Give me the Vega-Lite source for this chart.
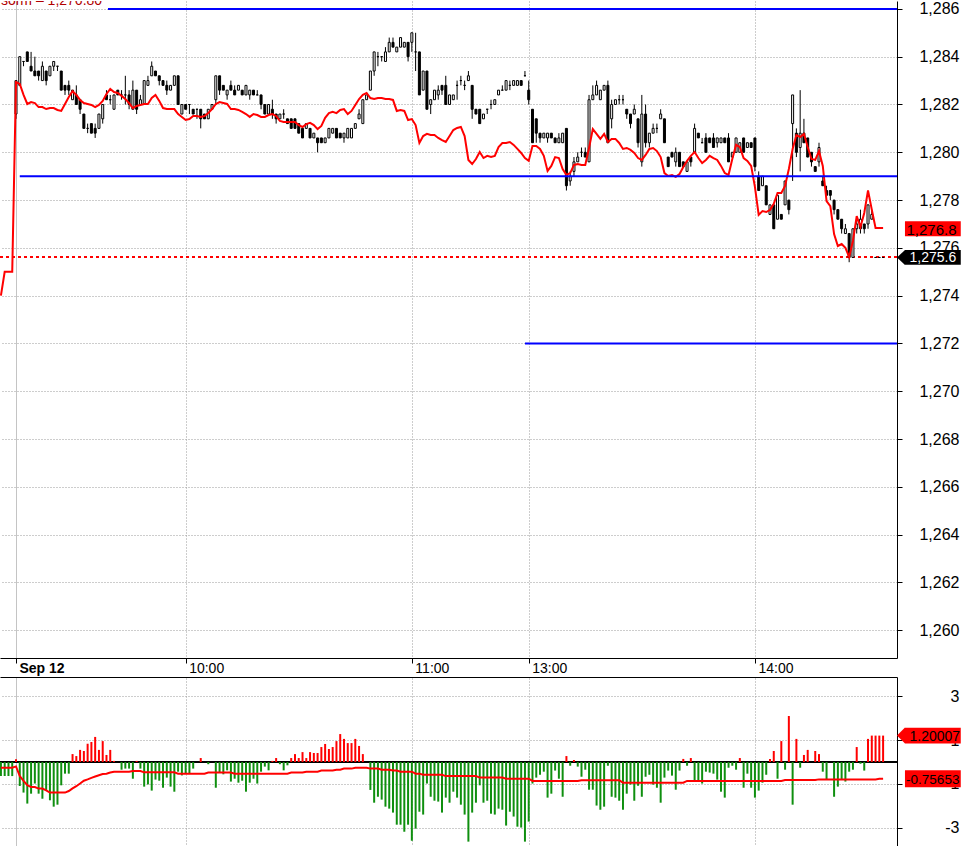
{
"$schema":"https://vega.github.io/schema/vega-lite/v6.json",
"padding":0,
"background":"white",
"spacing":0,
"config":{"view":{"stroke":null},"font":"Liberation Sans"},
"datasets":{"bars":[
{"i":-4,"m":1274.0,"v":-0.64,"s":-0.26},
{"i":-3,"m":1275.0,"v":-0.64,"s":-0.26},
{"i":-2,"m":1275.0,"v":-0.64,"s":-0.26},
{"i":-1,"m":1275.0,"v":-0.64,"s":-0.26},
{"i":0,"o":1281.6,"h":1283.0,"l":1281.4,"c":1283.0,"m":1282.94,"v":0.12,"s":-0.2},
{"i":1,"o":1282.8,"h":1284.0,"l":1282.8,"c":1284.0,"m":1282.86,"v":-1.09,"s":-0.64},
{"i":2,"o":1283.8,"h":1283.8,"l":1283.6,"c":1283.8,"m":1282.40,"v":-1.39,"s":-0.86},
{"i":3,"o":1284.2,"h":1284.2,"l":1283.8,"c":1283.8,"m":1282.02,"v":-1.89,"s":-1.05},
{"i":4,"o":1283.6,"h":1284.2,"l":1283.4,"c":1283.4,"m":1282.10,"v":-1.44,"s":-1.14},
{"i":5,"o":1283.4,"h":1284.0,"l":1283.2,"c":1283.2,"m":1282.06,"v":-0.98,"s":-1.14},
{"i":6,"o":1283.4,"h":1283.4,"l":1283.0,"c":1283.2,"m":1281.89,"v":-1.44,"s":-1.21},
{"i":7,"o":1283.0,"h":1283.8,"l":1283.0,"c":1283.6,"m":1281.89,"v":-1.67,"s":-1.21},
{"i":8,"o":1283.4,"h":1283.4,"l":1282.8,"c":1283.0,"m":1281.81,"v":-1.32,"s":-1.29},
{"i":9,"o":1283.2,"h":1283.6,"l":1283.2,"c":1283.6,"m":1281.85,"v":-1.74,"s":-1.39},
{"i":10,"o":1283.6,"h":1283.8,"l":1283.4,"c":1283.8,"m":1281.85,"v":-2.03,"s":-1.39},
{"i":11,"o":1283.6,"h":1283.6,"l":1283.4,"c":1283.6,"m":1281.77,"v":-1.94,"s":-1.39},
{"i":12,"o":1283.4,"h":1283.4,"l":1282.6,"c":1282.6,"m":1281.73,"v":-1.06,"s":-1.39},
{"i":13,"o":1282.8,"h":1282.8,"l":1282.4,"c":1282.6,"m":1282.02,"v":-0.53,"s":-1.39},
{"i":14,"o":1282.8,"h":1283.0,"l":1282.4,"c":1282.6,"m":1282.31,"v":-0.53,"s":-1.32},
{"i":15,"o":1282.2,"h":1282.6,"l":1282.2,"c":1282.6,"m":1282.56,"v":0.36,"s":-1.2},
{"i":16,"o":1282.4,"h":1282.8,"l":1282.0,"c":1282.0,"m":1282.40,"v":0.27,"s":-1.1},
{"i":17,"o":1282.2,"h":1282.2,"l":1281.6,"c":1281.8,"m":1282.19,"v":0.55,"s":-0.98},
{"i":18,"o":1281.6,"h":1281.6,"l":1281.0,"c":1281.0,"m":1282.06,"v":0.5,"s":-0.85},
{"i":19,"o":1281.0,"h":1281.2,"l":1280.8,"c":1281.0,"m":1282.02,"v":0.83,"s":-0.79},
{"i":20,"o":1281.2,"h":1281.2,"l":1280.8,"c":1280.8,"m":1281.98,"v":0.91,"s":-0.72},
{"i":21,"o":1281.0,"h":1281.2,"l":1280.6,"c":1280.8,"m":1281.89,"v":1.14,"s":-0.66},
{"i":22,"o":1281.0,"h":1281.6,"l":1281.0,"c":1281.6,"m":1281.98,"v":0.55,"s":-0.6},
{"i":23,"o":1281.4,"h":1282.0,"l":1281.2,"c":1282.0,"m":1282.15,"v":0.95,"s":-0.55},
{"i":24,"o":1282.4,"h":1282.6,"l":1282.2,"c":1282.2,"m":1282.44,"v":0.32,"s":-0.53},
{"i":25,"o":1282.2,"h":1282.4,"l":1282.0,"c":1282.2,"m":1282.65,"v":0.55,"s":-0.48},
{"i":26,"o":1281.8,"h":1282.4,"l":1281.8,"c":1282.4,"m":1282.52,"v":0.05,"s":-0.44},
{"i":27,"o":1282.6,"h":1282.6,"l":1282.4,"c":1282.4,"m":1282.48,"v":0,"s":-0.44},
{"i":28,"o":1282.4,"h":1282.6,"l":1282.2,"c":1282.4,"m":1282.36,"v":-0.35,"s":-0.44},
{"i":29,"o":1282.4,"h":1283.2,"l":1282.0,"c":1282.4,"m":1282.23,"v":-0.3,"s":-0.44},
{"i":30,"o":1282.4,"h":1282.6,"l":1281.8,"c":1282.0,"m":1282.06,"v":-0.3,"s":-0.44},
{"i":31,"o":1281.8,"h":1283.0,"l":1281.8,"c":1282.6,"m":1281.85,"v":-0.76,"s":-0.41},
{"i":32,"o":1282.6,"h":1282.6,"l":1281.6,"c":1281.8,"m":1281.94,"v":0.05,"s":-0.41},
{"i":33,"o":1282.0,"h":1282.4,"l":1282.0,"c":1282.2,"m":1281.98,"v":-0.3,"s":-0.41},
{"i":34,"o":1282.0,"h":1283.0,"l":1282.0,"c":1283.0,"m":1282.02,"v":-1.12,"s":-0.47},
{"i":35,"o":1282.8,"h":1283.2,"l":1282.8,"c":1283.0,"m":1282.02,"v":-1.02,"s":-0.47},
{"i":36,"o":1283.2,"h":1283.8,"l":1283.2,"c":1283.6,"m":1282.27,"v":-1.3,"s":-0.47},
{"i":37,"o":1283.4,"h":1283.4,"l":1283.2,"c":1283.2,"m":1282.40,"v":-0.8,"s":-0.47},
{"i":38,"o":1283.2,"h":1283.2,"l":1282.8,"c":1283.0,"m":1282.15,"v":-0.85,"s":-0.47},
{"i":39,"o":1283.0,"h":1283.0,"l":1282.8,"c":1282.8,"m":1281.85,"v":-1.17,"s":-0.47},
{"i":40,"o":1282.8,"h":1283.0,"l":1282.4,"c":1282.6,"m":1281.81,"v":-0.71,"s":-0.47},
{"i":41,"o":1282.6,"h":1282.8,"l":1282.6,"c":1282.8,"m":1281.81,"v":-1.12,"s":-0.47},
{"i":42,"o":1282.8,"h":1283.2,"l":1282.8,"c":1283.2,"m":1281.81,"v":-1.35,"s":-0.47},
{"i":43,"o":1283.2,"h":1283.2,"l":1282.0,"c":1282.0,"m":1281.60,"v":-0.44,"s":-0.53},
{"i":44,"o":1281.6,"h":1282.0,"l":1281.6,"c":1282.0,"m":1281.48,"v":-0.61,"s":-0.53},
{"i":45,"o":1282.0,"h":1282.0,"l":1281.8,"c":1281.8,"m":1281.35,"v":-0.53,"s":-0.53},
{"i":46,"o":1282.0,"h":1282.0,"l":1281.6,"c":1282.0,"m":1281.39,"v":-0.53,"s":-0.53},
{"i":47,"o":1281.8,"h":1281.8,"l":1281.6,"c":1281.6,"m":1281.52,"v":-0.3,"s":-0.53},
{"i":48,"o":1281.8,"h":1281.8,"l":1281.4,"c":1281.8,"m":1281.52,"v":0,"s":-0.53},
{"i":49,"o":1281.8,"h":1281.8,"l":1281.0,"c":1281.4,"m":1281.48,"v":0.18,"s":-0.53},
{"i":50,"o":1281.6,"h":1281.6,"l":1281.4,"c":1281.4,"m":1281.52,"v":0,"s":-0.53},
{"i":51,"o":1281.4,"h":1281.8,"l":1281.4,"c":1281.8,"m":1281.64,"v":-0.1,"s":-0.48},
{"i":52,"o":1281.8,"h":1282.0,"l":1281.8,"c":1282.0,"m":1281.81,"v":0,"s":-0.48},
{"i":53,"o":1282.2,"h":1283.2,"l":1282.0,"c":1283.2,"m":1282.02,"v":-1.17,"s":-0.48},
{"i":54,"o":1283.2,"h":1283.2,"l":1282.4,"c":1282.6,"m":1282.10,"v":-0.48,"s":-0.48},
{"i":55,"o":1282.8,"h":1282.8,"l":1282.6,"c":1282.6,"m":1282.06,"v":-0.56,"s":-0.48},
{"i":56,"o":1282.4,"h":1282.6,"l":1282.2,"c":1282.6,"m":1282.02,"v":-0.38,"s":-0.48},
{"i":57,"o":1282.8,"h":1283.0,"l":1282.6,"c":1282.6,"m":1281.81,"v":-0.89,"s":-0.48},
{"i":58,"o":1282.6,"h":1282.8,"l":1282.4,"c":1282.4,"m":1281.81,"v":-0.76,"s":-0.53},
{"i":59,"o":1282.6,"h":1282.8,"l":1282.6,"c":1282.8,"m":1281.77,"v":-0.94,"s":-0.53},
{"i":60,"o":1282.6,"h":1282.6,"l":1282.4,"c":1282.4,"m":1281.69,"v":-0.85,"s":-0.53},
{"i":61,"o":1282.4,"h":1282.8,"l":1282.4,"c":1282.8,"m":1281.60,"v":-1.35,"s":-0.53},
{"i":62,"o":1282.4,"h":1282.6,"l":1282.2,"c":1282.6,"m":1281.48,"v":-0.94,"s":-0.53},
{"i":63,"o":1282.6,"h":1282.6,"l":1282.4,"c":1282.4,"m":1281.60,"v":-0.76,"s":-0.53},
{"i":64,"o":1282.4,"h":1282.6,"l":1282.4,"c":1282.4,"m":1281.56,"v":-0.98,"s":-0.53},
{"i":65,"o":1282.4,"h":1282.4,"l":1281.8,"c":1282.0,"m":1281.48,"v":-0.44,"s":-0.53},
{"i":66,"o":1282.0,"h":1282.0,"l":1281.6,"c":1281.6,"m":1281.48,"v":-0.21,"s":-0.53},
{"i":67,"o":1281.6,"h":1282.0,"l":1281.6,"c":1282.0,"m":1281.56,"v":-0.38,"s":-0.53},
{"i":68,"o":1281.8,"h":1282.2,"l":1281.4,"c":1281.6,"m":1281.60,"v":0.05,"s":-0.53},
{"i":69,"o":1281.6,"h":1281.6,"l":1281.2,"c":1281.4,"m":1281.52,"v":0.18,"s":-0.53},
{"i":70,"o":1281.4,"h":1281.6,"l":1281.4,"c":1281.6,"m":1281.31,"v":-0.1,"s":-0.53},
{"i":71,"o":1281.6,"h":1281.8,"l":1281.4,"c":1281.6,"m":1281.27,"v":-0.38,"s":-0.53},
{"i":72,"o":1281.4,"h":1281.4,"l":1281.2,"c":1281.2,"m":1281.27,"v":-0.15,"s":-0.53},
{"i":73,"o":1281.4,"h":1281.4,"l":1281.0,"c":1281.0,"m":1281.27,"v":0.18,"s":-0.48},
{"i":74,"o":1281.4,"h":1281.4,"l":1281.0,"c":1281.0,"m":1281.27,"v":0.36,"s":-0.48},
{"i":75,"o":1281.2,"h":1281.2,"l":1280.8,"c":1280.8,"m":1281.14,"v":0.18,"s":-0.48},
{"i":76,"o":1281.0,"h":1281.0,"l":1280.6,"c":1280.6,"m":1281.06,"v":0.45,"s":-0.48},
{"i":77,"o":1281.0,"h":1281.2,"l":1281.0,"c":1281.2,"m":1281.18,"v":0.18,"s":-0.44},
{"i":78,"o":1281.0,"h":1281.0,"l":1280.6,"c":1280.6,"m":1281.23,"v":0.45,"s":-0.44},
{"i":79,"o":1280.6,"h":1280.8,"l":1280.6,"c":1280.8,"m":1281.14,"v":0.41,"s":-0.44},
{"i":80,"o":1280.6,"h":1280.6,"l":1280.0,"c":1280.4,"m":1280.97,"v":0.41,"s":-0.44},
{"i":81,"o":1280.6,"h":1280.6,"l":1280.4,"c":1280.4,"m":1281.10,"v":0.68,"s":-0.39},
{"i":82,"o":1280.4,"h":1280.6,"l":1280.4,"c":1280.6,"m":1281.44,"v":0.82,"s":-0.39},
{"i":83,"o":1280.6,"h":1281.0,"l":1280.6,"c":1281.0,"m":1281.64,"v":0.59,"s":-0.39},
{"i":84,"o":1280.8,"h":1281.0,"l":1280.8,"c":1281.0,"m":1281.69,"v":0.68,"s":-0.39},
{"i":85,"o":1281.0,"h":1281.0,"l":1280.6,"c":1280.6,"m":1281.64,"v":0.95,"s":-0.35},
{"i":86,"o":1280.8,"h":1280.8,"l":1280.6,"c":1280.6,"m":1281.77,"v":1.27,"s":-0.35},
{"i":87,"o":1280.6,"h":1280.8,"l":1280.4,"c":1280.8,"m":1281.81,"v":1.05,"s":-0.3},
{"i":88,"o":1280.6,"h":1281.0,"l":1280.6,"c":1281.0,"m":1281.60,"v":0.86,"s":-0.3},
{"i":89,"o":1280.6,"h":1281.0,"l":1280.6,"c":1281.0,"m":1281.73,"v":0.86,"s":-0.3},
{"i":90,"o":1281.0,"h":1281.2,"l":1281.0,"c":1281.2,"m":1281.98,"v":1.05,"s":-0.26},
{"i":91,"o":1281.4,"h":1281.8,"l":1281.4,"c":1281.6,"m":1282.23,"v":0.73,"s":-0.26},
{"i":92,"o":1281.2,"h":1282.2,"l":1281.2,"c":1282.2,"m":1282.40,"v":0.36,"s":-0.26},
{"i":93,"o":1282.2,"h":1282.4,"l":1282.2,"c":1282.4,"m":1282.48,"v":0,"s":-0.26},
{"i":94,"o":1282.6,"h":1283.4,"l":1282.6,"c":1283.4,"m":1282.27,"v":-1.27,"s":-0.3},
{"i":95,"o":1283.4,"h":1284.2,"l":1283.2,"c":1284.2,"m":1282.23,"v":-1.85,"s":-0.3},
{"i":96,"o":1284.0,"h":1284.2,"l":1283.6,"c":1284.0,"m":1282.27,"v":-1.58,"s":-0.3},
{"i":97,"o":1284.0,"h":1284.0,"l":1283.8,"c":1284.0,"m":1282.27,"v":-1.71,"s":-0.35},
{"i":98,"o":1283.8,"h":1284.4,"l":1283.8,"c":1284.2,"m":1282.23,"v":-2.03,"s":-0.35},
{"i":99,"o":1284.2,"h":1284.8,"l":1284.2,"c":1284.6,"m":1282.23,"v":-2.12,"s":-0.35},
{"i":100,"o":1284.6,"h":1284.8,"l":1284.4,"c":1284.4,"m":1282.19,"v":-2.3,"s":-0.39},
{"i":101,"o":1284.2,"h":1284.4,"l":1284.2,"c":1284.4,"m":1281.73,"v":-2.85,"s":-0.39},
{"i":102,"o":1284.4,"h":1284.8,"l":1284.4,"c":1284.8,"m":1281.77,"v":-2.85,"s":-0.44},
{"i":103,"o":1284.4,"h":1284.6,"l":1284.4,"c":1284.6,"m":1281.73,"v":-3.17,"s":-0.44},
{"i":104,"o":1284.6,"h":1284.6,"l":1283.8,"c":1284.0,"m":1281.35,"v":-2.85,"s":-0.44},
{"i":105,"o":1284.6,"h":1285.0,"l":1284.2,"c":1285.0,"m":1281.39,"v":-3.58,"s":-0.44},
{"i":106,"o":1284.2,"h":1285.0,"l":1283.4,"c":1284.2,"m":1281.14,"v":-3.03,"s":-0.53},
{"i":107,"o":1284.2,"h":1284.2,"l":1282.4,"c":1282.4,"m":1280.39,"v":-2.26,"s":-0.53},
{"i":108,"o":1282.6,"h":1283.4,"l":1282.6,"c":1283.4,"m":1280.68,"v":-2.39,"s":-0.58},
{"i":109,"o":1283.4,"h":1283.4,"l":1281.8,"c":1281.8,"m":1280.77,"v":-0.98,"s":-0.58},
{"i":110,"o":1282.0,"h":1282.2,"l":1281.6,"c":1282.2,"m":1280.72,"v":-1.58,"s":-0.58},
{"i":111,"o":1282.2,"h":1282.6,"l":1282.2,"c":1282.6,"m":1280.72,"v":-1.76,"s":-0.58},
{"i":112,"o":1282.4,"h":1282.8,"l":1282.2,"c":1282.6,"m":1280.60,"v":-1.8,"s":-0.58},
{"i":113,"o":1282.8,"h":1282.8,"l":1282.4,"c":1282.6,"m":1280.51,"v":-2.3,"s":-0.58},
{"i":114,"o":1282.8,"h":1283.2,"l":1282.0,"c":1282.0,"m":1280.43,"v":-1.62,"s":-0.64},
{"i":115,"o":1282.0,"h":1282.4,"l":1282.0,"c":1282.4,"m":1280.68,"v":-1.85,"s":-0.64},
{"i":116,"o":1282.2,"h":1282.4,"l":1282.2,"c":1282.4,"m":1280.93,"v":-1.35,"s":-0.64},
{"i":117,"o":1282.8,"h":1283.0,"l":1282.2,"c":1282.8,"m":1281.02,"v":-1.62,"s":-0.64},
{"i":118,"o":1283.0,"h":1283.2,"l":1282.8,"c":1283.0,"m":1281.06,"v":-1.94,"s":-0.64},
{"i":119,"o":1282.8,"h":1283.0,"l":1282.6,"c":1282.8,"m":1280.68,"v":-2.39,"s":-0.64},
{"i":120,"o":1283.0,"h":1283.4,"l":1283.0,"c":1283.2,"m":1279.68,"v":-3.62,"s":-0.64},
{"i":121,"o":1282.8,"h":1282.8,"l":1281.4,"c":1281.8,"m":1279.51,"v":-2.3,"s":-0.64},
{"i":122,"o":1281.8,"h":1281.8,"l":1281.6,"c":1281.6,"m":1279.72,"v":-1.85,"s":-0.64},
{"i":123,"o":1281.8,"h":1281.8,"l":1281.2,"c":1281.2,"m":1280.01,"v":-1.06,"s":-0.71},
{"i":124,"o":1281.4,"h":1281.6,"l":1281.4,"c":1281.6,"m":1279.76,"v":-1.85,"s":-0.71},
{"i":125,"o":1281.8,"h":1281.8,"l":1281.6,"c":1281.8,"m":1279.85,"v":-1.76,"s":-0.71},
{"i":126,"o":1282.0,"h":1282.2,"l":1281.8,"c":1282.0,"m":1279.80,"v":-2.35,"s":-0.71},
{"i":127,"o":1282.0,"h":1282.2,"l":1282.0,"c":1282.2,"m":1279.85,"v":-2.39,"s":-0.71},
{"i":128,"o":1282.4,"h":1282.6,"l":1282.4,"c":1282.6,"m":1280.22,"v":-2.12,"s":-0.71},
{"i":129,"o":1282.6,"h":1282.8,"l":1282.6,"c":1282.6,"m":1280.39,"v":-2.17,"s":-0.71},
{"i":130,"o":1282.6,"h":1283.0,"l":1282.6,"c":1283.0,"m":1280.39,"v":-2.89,"s":-0.76},
{"i":131,"o":1282.8,"h":1283.0,"l":1282.6,"c":1282.8,"m":1280.43,"v":-2.26,"s":-0.76},
{"i":132,"o":1282.8,"h":1283.0,"l":1282.8,"c":1283.0,"m":1280.31,"v":-2.48,"s":-0.76},
{"i":133,"o":1282.8,"h":1283.0,"l":1282.8,"c":1283.0,"m":1280.14,"v":-2.94,"s":-0.76},
{"i":134,"o":1283.0,"h":1283.0,"l":1282.8,"c":1282.8,"m":1279.97,"v":-2.98,"s":-0.76},
{"i":135,"o":1283.2,"h":1283.4,"l":1283.2,"c":1283.2,"m":1279.76,"v":-3.62,"s":-0.76},
{"i":136,"o":1282.6,"h":1283.0,"l":1282.0,"c":1282.2,"m":1279.64,"v":-2.71,"s":-0.76},
{"i":137,"o":1281.8,"h":1281.8,"l":1280.4,"c":1280.4,"m":1280.26,"v":-0.98,"s":-0.86},
{"i":138,"o":1281.4,"h":1281.4,"l":1280.4,"c":1280.8,"m":1280.26,"v":-0.71,"s":-0.86},
{"i":139,"o":1280.8,"h":1280.8,"l":1280.4,"c":1280.6,"m":1280.14,"v":-0.58,"s":-0.86},
{"i":140,"o":1280.6,"h":1280.8,"l":1280.6,"c":1280.8,"m":1279.85,"v":-0.44,"s":-0.86},
{"i":141,"o":1280.6,"h":1280.8,"l":1280.4,"c":1280.8,"m":1279.22,"v":-1.62,"s":-0.86},
{"i":142,"o":1280.8,"h":1280.8,"l":1280.6,"c":1280.6,"m":1279.43,"v":-1.44,"s":-0.86},
{"i":143,"o":1280.6,"h":1280.6,"l":1280.4,"c":1280.4,"m":1279.80,"v":-0.39,"s":-0.86},
{"i":144,"o":1280.4,"h":1280.8,"l":1280.4,"c":1280.6,"m":1279.76,"v":-0.76,"s":-0.86},
{"i":145,"o":1280.4,"h":1280.8,"l":1280.4,"c":1280.8,"m":1279.30,"v":-1.58,"s":-0.86},
{"i":146,"o":1281.0,"h":1281.0,"l":1278.4,"c":1278.6,"m":1279.05,"v":0.27,"s":-0.86},
{"i":147,"o":1278.8,"h":1279.2,"l":1278.6,"c":1279.0,"m":1279.13,"v":-0.17,"s":-0.86},
{"i":148,"o":1279.2,"h":1279.8,"l":1279.0,"c":1279.6,"m":1279.47,"v":0.09,"s":-0.86},
{"i":149,"o":1279.6,"h":1280.0,"l":1279.6,"c":1279.8,"m":1279.51,"v":-0.21,"s":-0.86},
{"i":150,"o":1280.0,"h":1280.2,"l":1279.8,"c":1280.0,"m":1279.47,"v":-0.67,"s":-0.83},
{"i":151,"o":1280.0,"h":1280.2,"l":1279.8,"c":1279.8,"m":1279.47,"v":-0.35,"s":-0.83},
{"i":152,"o":1279.6,"h":1282.4,"l":1279.6,"c":1282.2,"m":1280.18,"v":-1.26,"s":-0.83},
{"i":153,"o":1282.2,"h":1282.8,"l":1282.2,"c":1282.4,"m":1280.97,"v":-1.26,"s":-0.83},
{"i":154,"o":1282.4,"h":1283.0,"l":1282.4,"c":1282.8,"m":1280.77,"v":-1.98,"s":-0.83},
{"i":155,"o":1282.2,"h":1282.6,"l":1282.2,"c":1282.6,"m":1280.56,"v":-2.17,"s":-0.83},
{"i":156,"o":1282.6,"h":1282.8,"l":1282.6,"c":1282.8,"m":1280.77,"v":-2.03,"s":-0.83},
{"i":157,"o":1282.8,"h":1283.0,"l":1280.4,"c":1280.4,"m":1280.43,"v":-0.17,"s":-0.83},
{"i":158,"o":1281.4,"h":1282.2,"l":1281.0,"c":1282.0,"m":1280.56,"v":-1.58,"s":-0.83},
{"i":159,"o":1282.0,"h":1282.2,"l":1282.0,"c":1282.2,"m":1280.56,"v":-1.62,"s":-0.83},
{"i":160,"o":1282.2,"h":1282.4,"l":1282.0,"c":1282.2,"m":1280.39,"v":-1.76,"s":-0.83},
{"i":161,"o":1282.2,"h":1282.4,"l":1282.0,"c":1282.2,"m":1280.14,"v":-2.17,"s":-0.94},
{"i":162,"o":1281.8,"h":1281.8,"l":1281.4,"c":1281.6,"m":1280.18,"v":-1.44,"s":-0.94},
{"i":163,"o":1281.6,"h":1281.6,"l":1281.0,"c":1281.2,"m":1280.10,"v":-1.03,"s":-0.94},
{"i":164,"o":1281.6,"h":1282.0,"l":1281.6,"c":1281.8,"m":1279.97,"v":-1.76,"s":-0.94},
{"i":165,"o":1281.4,"h":1281.4,"l":1280.2,"c":1280.4,"m":1279.76,"v":-1.08,"s":-0.94},
{"i":166,"o":1279.6,"h":1282.4,"l":1279.4,"c":1281.6,"m":1279.68,"v":-1.58,"s":-0.94},
{"i":167,"o":1281.6,"h":1282.0,"l":1280.2,"c":1280.4,"m":1279.89,"v":-0.67,"s":-0.94},
{"i":168,"o":1280.4,"h":1280.8,"l":1280.2,"c":1280.8,"m":1280.14,"v":-0.58,"s":-0.94},
{"i":169,"o":1280.8,"h":1281.2,"l":1280.8,"c":1281.0,"m":1280.18,"v":-1.03,"s":-0.94},
{"i":170,"o":1281.0,"h":1281.2,"l":1280.8,"c":1281.0,"m":1280.05,"v":-1.17,"s":-0.94},
{"i":171,"o":1281.4,"h":1281.8,"l":1281.4,"c":1281.6,"m":1279.80,"v":-1.85,"s":-0.94},
{"i":172,"o":1281.4,"h":1281.4,"l":1280.4,"c":1280.4,"m":1279.13,"v":-0.71,"s":-0.94},
{"i":173,"o":1279.8,"h":1279.8,"l":1279.4,"c":1279.4,"m":1279.01,"v":-0.39,"s":-0.94},
{"i":174,"o":1280.0,"h":1280.0,"l":1279.8,"c":1279.8,"m":1279.05,"v":-0.62,"s":-0.94},
{"i":175,"o":1279.6,"h":1280.2,"l":1279.4,"c":1280.0,"m":1278.97,"v":-1.26,"s":-0.94},
{"i":176,"o":1280.0,"h":1280.0,"l":1279.4,"c":1279.4,"m":1279.09,"v":-0.39,"s":-0.94},
{"i":177,"o":1279.6,"h":1279.6,"l":1279.4,"c":1279.4,"m":1279.38,"v":0.14,"s":-0.94},
{"i":178,"o":1279.2,"h":1279.6,"l":1279.2,"c":1279.6,"m":1279.64,"v":-0.17,"s":-0.86},
{"i":179,"o":1279.8,"h":1279.8,"l":1279.4,"c":1279.6,"m":1279.85,"v":0.18,"s":-0.86},
{"i":180,"o":1280.0,"h":1281.2,"l":1280.0,"c":1281.0,"m":1280.01,"v":-0.89,"s":-0.86},
{"i":181,"o":1280.8,"h":1280.8,"l":1280.6,"c":1280.6,"m":1279.76,"v":-0.85,"s":-0.86},
{"i":182,"o":1280.4,"h":1280.6,"l":1280.4,"c":1280.4,"m":1279.55,"v":-0.98,"s":-0.86},
{"i":183,"o":1280.6,"h":1280.8,"l":1280.0,"c":1280.0,"m":1279.68,"v":-0.44,"s":-0.86},
{"i":184,"o":1280.6,"h":1280.6,"l":1280.4,"c":1280.4,"m":1279.85,"v":-0.48,"s":-0.86},
{"i":185,"o":1280.6,"h":1280.8,"l":1280.2,"c":1280.2,"m":1279.76,"v":-0.53,"s":-0.86},
{"i":186,"o":1280.4,"h":1280.6,"l":1280.2,"c":1280.6,"m":1279.68,"v":-0.8,"s":-0.86},
{"i":187,"o":1280.4,"h":1280.6,"l":1280.4,"c":1280.6,"m":1279.43,"v":-1.35,"s":-0.86},
{"i":188,"o":1280.6,"h":1280.6,"l":1280.4,"c":1280.4,"m":1279.13,"v":-1.62,"s":-0.86},
{"i":189,"o":1280.6,"h":1280.8,"l":1279.6,"c":1279.6,"m":1279.05,"v":-0.26,"s":-0.86},
{"i":190,"o":1279.8,"h":1280.0,"l":1279.8,"c":1280.0,"m":1279.72,"v":-0.17,"s":-0.86},
{"i":191,"o":1280.0,"h":1280.6,"l":1280.0,"c":1280.6,"m":1280.31,"v":-0.35,"s":-0.86},
{"i":192,"o":1280.0,"h":1280.4,"l":1280.0,"c":1280.4,"m":1280.22,"v":0.18,"s":-0.86},
{"i":193,"o":1280.6,"h":1280.6,"l":1280.0,"c":1280.0,"m":1279.76,"v":-1.17,"s":-0.86},
{"i":194,"o":1280.2,"h":1280.4,"l":1280.2,"c":1280.4,"m":1279.64,"v":-0.53,"s":-0.86},
{"i":195,"o":1280.4,"h":1280.4,"l":1280.2,"c":1280.2,"m":1279.43,"v":-1.17,"s":-0.86},
{"i":196,"o":1280.6,"h":1280.6,"l":1279.2,"c":1279.4,"m":1278.55,"v":-1.62,"s":-0.86},
{"i":197,"o":1279.0,"h":1279.2,"l":1278.4,"c":1278.4,"m":1277.38,"v":-1.3,"s":-0.86},
{"i":198,"o":1278.6,"h":1279.0,"l":1278.6,"c":1279.0,"m":1277.54,"v":-0.94,"s":-0.86},
{"i":199,"o":1278.6,"h":1278.6,"l":1277.8,"c":1277.8,"m":1277.50,"v":-0.58,"s":-0.86},
{"i":200,"o":1277.4,"h":1277.8,"l":1277.4,"c":1277.8,"m":1277.59,"v":0.14,"s":-0.86},
{"i":201,"o":1277.8,"h":1277.8,"l":1276.8,"c":1276.8,"m":1277.84,"v":0.5,"s":-0.86},
{"i":202,"o":1277.2,"h":1278.2,"l":1277.2,"c":1278.2,"m":1278.30,"v":-0.76,"s":-0.86},
{"i":203,"o":1277.4,"h":1277.4,"l":1277.2,"c":1277.2,"m":1278.30,"v":0.95,"s":-0.86},
{"i":204,"o":1277.8,"h":1278.8,"l":1277.8,"c":1278.8,"m":1278.59,"v":-0.35,"s":-0.82},
{"i":205,"o":1278.0,"h":1278.0,"l":1277.4,"c":1277.6,"m":1279.30,"v":2.09,"s":-0.82},
{"i":206,"o":1281.2,"h":1282.4,"l":1278.8,"c":1282.4,"m":1280.14,"v":-1.94,"s":-0.82},
{"i":207,"o":1280.8,"h":1281.0,"l":1279.8,"c":1280.0,"m":1280.72,"v":1.05,"s":-0.82},
{"i":208,"o":1280.2,"h":1282.6,"l":1279.2,"c":1280.8,"m":1280.64,"v":-0.26,"s":-0.82},
{"i":209,"o":1280.8,"h":1281.4,"l":1280.4,"c":1280.4,"m":1280.77,"v":0.32,"s":-0.82},
{"i":210,"o":1280.6,"h":1280.6,"l":1279.8,"c":1279.8,"m":1280.22,"v":0.55,"s":-0.82},
{"i":211,"o":1280.0,"h":1280.0,"l":1279.4,"c":1279.6,"m":1279.72,"v":0,"s":-0.82},
{"i":212,"o":1279.4,"h":1279.4,"l":1279.2,"c":1279.2,"m":1279.68,"v":0.5,"s":-0.82},
{"i":213,"o":1279.6,"h":1280.4,"l":1279.4,"c":1280.2,"m":1280.05,"v":0.36,"s":-0.79},
{"i":214,"o":1278.8,"h":1279.0,"l":1278.6,"c":1278.6,"m":1279.43,"v":-0.44,"s":-0.79},
{"i":215,"o":1278.4,"h":1278.6,"l":1278.2,"c":1278.2,"m":1277.96,"v":-0.8,"s":-0.79},
{"i":216,"o":1278.4,"h":1278.4,"l":1278.0,"c":1278.2,"m":1277.75,"v":0,"s":-0.79},
{"i":217,"o":1278.0,"h":1278.0,"l":1277.4,"c":1277.6,"m":1276.58,"v":-1.58,"s":-0.79},
{"i":218,"o":1277.6,"h":1277.6,"l":1277.2,"c":1277.2,"m":1276.08,"v":-1.12,"s":-0.79},
{"i":219,"o":1277.2,"h":1277.2,"l":1276.6,"c":1276.8,"m":1276.16,"v":-0.8,"s":-0.79},
{"i":220,"o":1276.6,"h":1277.0,"l":1276.6,"c":1276.8,"m":1276.00,"v":-0.89,"s":-0.79},
{"i":221,"o":1276.6,"h":1276.6,"l":1275.4,"c":1275.6,"m":1275.62,"v":-0.44,"s":-0.79},
{"i":222,"o":1275.6,"h":1276.8,"l":1275.6,"c":1276.8,"m":1276.29,"v":-0.35,"s":-0.79},
{"i":223,"o":1276.8,"h":1277.2,"l":1276.6,"c":1277.0,"m":1277.33,"v":0.68,"s":-0.79},
{"i":224,"o":1276.8,"h":1277.6,"l":1276.6,"c":1277.2,"m":1276.87,"v":-0.08,"s":-0.79},
{"i":225,"o":1277.0,"h":1277.0,"l":1276.6,"c":1276.8,"m":1277.46,"v":-0.39,"s":-0.79},
{"i":226,"o":1277.0,"h":1277.8,"l":1276.8,"c":1277.8,"m":1278.40,"v":1.05,"s":-0.79},
{"i":227,"o":1277.2,"h":1277.6,"l":1277.2,"c":1277.4,"m":1277.60,"v":1.2,"s":-0.79},
{"i":228,"o":1275.6,"h":1275.6,"l":1275.6,"c":1275.6,"m":1276.83,"v":1.2,"s":-0.79},
{"i":229,"o":1275.6,"h":1275.6,"l":1275.6,"c":1275.6,"m":1276.83,"v":1.2,"s":-0.76},
{"i":230,"o":1275.6,"h":1275.6,"l":1275.6,"c":1275.6,"m":1276.83,"v":1.2,"s":-0.76}
]},
"vconcat":[
{
"width":897,"height":657,
"data":{"name":"bars"},
"layer":[
{"mark":{"type":"rule","color":"#ff0000","strokeDash":[3,3],"strokeWidth":1,"clip":true},
 "encoding":{"y":{"datum":1275.6,"type":"quantitative","scale":{"domain":[1258.84,1286.33],"nice":false,"zero":false,"padding":0},
  "axis":{"orient":"right","title":null,"values":[1260,1262,1264,1266,1268,1270,1272,1274,1276,1278,1280,1282,1284,1286],"format":",d","domainColor":"black","tickColor":"black","tickSize":5,"labelAlign":"right","labelPadding":57,"labelFont":"Liberation Sans Narrow, Liberation Sans","labelFontSize":16,"labelColor":"black","labelOverlap":false,"labelBound":false,"grid":true,"gridColor":"#9a9a9a","gridDash":[1,2],"minExtent":64,"maxExtent":64}}}},
{"transform":[{"filter":"datum.o != null"}],
 "mark":{"type":"rule","color":"black","strokeWidth":1,"clip":true},
 "encoding":{"x":{"field":"i","type":"quantitative","scale":{"domain":[-4.244,233.687],"nice":false,"zero":false,"padding":0},
  "axis":{"orient":"bottom","title":null,"values":[0,45,105,136,196],"labelExpr":"datum.value==0?'Sep 12':datum.value==45?'10:00':datum.value==105?'11:00':datum.value==136?'13:00':'14:00'","domainColor":"black","tickColor":"black","tickSize":5,"labelAlign":"left","labelOffset":3,"labelBaseline":"alphabetic","labelPadding":9,"labelFont":"Liberation Sans","labelFontSize":14,"labelColor":"black","labelFlush":false,"labelOverlap":false,"labelFontWeight":{"condition":{"test":"datum.value==0","value":"bold"},"value":"normal"},"grid":true,"gridColor":{"condition":{"test":"datum.value==0","value":"#c4c4c4"},"value":"#9a9a9a"},"gridDash":{"condition":{"test":"datum.value==0","value":[]},"value":[1,2]},"minExtent":19,"maxExtent":19}},
  "y":{"field":"l","type":"quantitative","title":null},"y2":{"field":"h"}}},
{"transform":[{"filter":"datum.o != null"}],
 "mark":{"type":"bar","size":2,"stroke":"black","strokeWidth":1,"clip":true},
 "encoding":{"x":{"field":"i","type":"quantitative","title":null},"y":{"field":"o","type":"quantitative","title":null},"y2":{"field":"c"},
  "fill":{"condition":{"test":"datum.c >= datum.o","value":"white"},"value":"black"}}},
{"mark":{"type":"line","color":"#ff0000","strokeWidth":2,"clip":true},
 "encoding":{"x":{"field":"i","type":"quantitative","title":null},"y":{"field":"m","type":"quantitative","title":null}}},
{"data":{"values":[{"level":1286.0,"from":24.4,"to":233.687},{"level":1279.0,"from":1,"to":233.687},{"level":1272.0,"from":135,"to":233.687}]},
 "mark":{"type":"rule","color":"#0000ff","strokeWidth":2,"clip":true},
 "encoding":{"x":{"field":"from","type":"quantitative","title":null},"x2":{"field":"to"},"y":{"field":"level","type":"quantitative","title":null}}},
{"data":{"values":[{"t":"sorm \u2013 1,276.80","p":1286.33}]},
 "mark":{"type":"text","align":"left","baseline":"middle","clip":true,"fontSize":14,"color":"#b00000","font":"Liberation Sans"},
 "encoding":{"x":{"datum":-4.0},"y":{"field":"p","type":"quantitative"},"text":{"field":"t"}}},
{"data":{"values":[{"p":1276.8,"lo":1276.49,"hi":1277.11,"t":"1,276.8"}]},
 "layer":[
  {"mark":{"type":"rect","color":"#ff0000"},"encoding":{"x":{"datum":235.8},"x2":{"datum":250.6},"y":{"field":"lo","type":"quantitative"},"y2":{"field":"hi"}}},
  {"mark":{"type":"text","align":"left","baseline":"middle","fontSize":15,"font":"Liberation Sans","color":"black","dy":1},"encoding":{"x":{"datum":236.2},"y":{"field":"p","type":"quantitative"},"text":{"field":"t"}}}
 ]},
{"data":{"values":[{"p":1275.6,"lo":1275.29,"hi":1275.91,"t":"1,275.6"}]},
 "layer":[
  {"mark":{"type":"rect","color":"black"},"encoding":{"x":{"datum":235.8},"x2":{"datum":250.6},"y":{"field":"lo","type":"quantitative"},"y2":{"field":"hi"}}},
  {"mark":{"type":"point","shape":"M -1 0 L 1 -1.875 L 1 1.875 Z","size":64,"filled":true,"color":"black","opacity":1},"encoding":{"x":{"datum":234.75},"y":{"field":"p","type":"quantitative"}}},
  {"mark":{"type":"text","align":"left","baseline":"middle","fontSize":14,"font":"Liberation Sans","color":"white","dy":1},"encoding":{"x":{"datum":237.0},"y":{"field":"p","type":"quantitative"},"text":{"field":"t"}}}
 ]}
]
},
{
"width":897,"height":170,
"data":{"name":"bars"},
"layer":[
{"mark":{"type":"rule","color":"black","strokeWidth":1.5,"clip":true},
 "encoding":{"y":{"datum":0,"type":"quantitative","scale":{"domain":[-3.864,3.864],"nice":false,"zero":false,"padding":0},
  "axis":{"orient":"right","title":null,"values":[-3,-2,-1,0,1,2,3],"labelExpr":"'' + datum.value","domainColor":"black","tickColor":"black","tickSize":5,"labelAlign":"right","labelPadding":57,"labelFont":"Liberation Sans Narrow, Liberation Sans","labelFontSize":16,"labelColor":"black","labelOverlap":false,"labelBound":false,"grid":true,"gridColor":"#9a9a9a","gridDash":[1,2],"minExtent":64,"maxExtent":64}}}},
{"mark":{"type":"bar","size":2,"clip":true},
 "encoding":{"x":{"field":"i","type":"quantitative","scale":{"domain":[-4.244,233.687],"nice":false,"zero":false,"padding":0},
  "axis":{"orient":"top","title":null,"values":[0,45,105,136,196],"labels":false,"ticks":false,"domainColor":"black","grid":true,"gridColor":{"condition":{"test":"datum.value==0","value":"#c4c4c4"},"value":"#9a9a9a"},"gridDash":{"condition":{"test":"datum.value==0","value":[]},"value":[1,2]},"minExtent":0,"maxExtent":0}},
  "y":{"field":"v","type":"quantitative","title":null},"y2":{"datum":0},
  "color":{"condition":{"test":"datum.v > 0","value":"#ff0000"},"value":"#0f8f0f"}}},
{"mark":{"type":"line","color":"#ff0000","strokeWidth":2,"clip":true},
 "encoding":{"x":{"field":"i","type":"quantitative","title":null},"y":{"field":"s","type":"quantitative","title":null}}},
{"data":{"values":[{"p":1.20007,"lo":0.84,"hi":1.56,"t":"1.20007"}]},
 "layer":[
  {"mark":{"type":"rect","color":"#ff0000"},"encoding":{"x":{"datum":235.8},"x2":{"datum":250.6},"y":{"field":"lo","type":"quantitative"},"y2":{"field":"hi"}}},
  {"mark":{"type":"point","shape":"M -1 0 L 1 -2 L 1 2 Z","size":64,"filled":true,"color":"#ff0000","opacity":1},"encoding":{"x":{"datum":234.75},"y":{"field":"p","type":"quantitative"}}},
  {"mark":{"type":"text","align":"left","baseline":"middle","fontSize":14,"font":"Liberation Sans","color":"black","dy":1},"encoding":{"x":{"datum":237.0},"y":{"field":"p","type":"quantitative"},"text":{"field":"t"}}}
 ]},
{"data":{"values":[{"p":-0.75653,"lo":-1.15,"hi":-0.37,"t":"-0.75653"}]},
 "layer":[
  {"mark":{"type":"rect","color":"#ff0000"},"encoding":{"x":{"datum":235.8},"x2":{"datum":250.6},"y":{"field":"lo","type":"quantitative"},"y2":{"field":"hi"}}},
  {"mark":{"type":"text","align":"left","baseline":"middle","fontSize":13.5,"font":"Liberation Sans","color":"black","dy":1},"encoding":{"x":{"datum":236.1},"y":{"field":"p","type":"quantitative"},"text":{"field":"t"}}}
 ]}
]
}
]
}
